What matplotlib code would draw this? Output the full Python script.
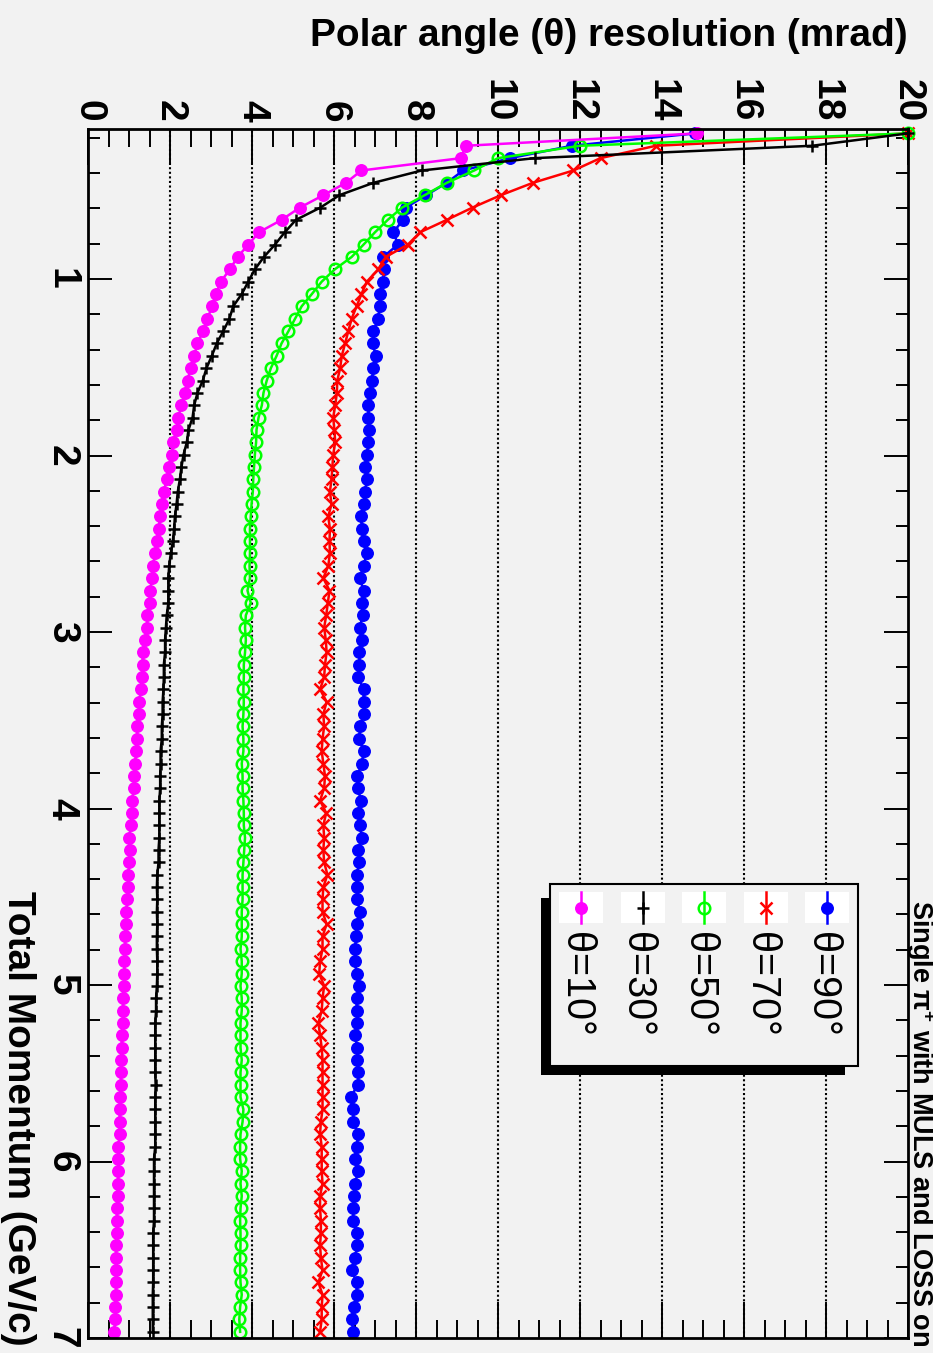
import numpy as np
import matplotlib
matplotlib.use('Agg')
import matplotlib.pyplot as plt
from matplotlib.patches import Rectangle
from matplotlib.lines import Line2D
from matplotlib.ticker import MultipleLocator

# momentum bin centres in GeV/c (bins of 0.07, the first two lie below the axis)
momentum = (np.arange(2, 100) + 0.5) * 0.07

# polar angle resolution in mrad
res_10 = [14.86, 9.21, 9.10, 6.67, 6.29, 5.74, 5.17, 4.72, 4.17, 3.91, 3.65, 3.46, 3.24, 3.12,
          3.03, 2.91, 2.81, 2.67, 2.59, 2.50, 2.43, 2.37, 2.28, 2.20, 2.16, 2.07, 2.04, 1.98, 1.92, 1.85, 1.80, 1.76, 1.72, 1.68, 1.63,
          1.59, 1.57, 1.51, 1.50, 1.45, 1.43, 1.39, 1.33, 1.33, 1.31, 1.29, 1.25, 1.24, 1.20, 1.19, 1.17, 1.15, 1.13, 1.11, 1.08, 1.07,
          1.04, 1.01, 1.02, 1.01, 0.98, 0.98, 0.96, 0.93, 0.93, 0.90, 0.90, 0.89, 0.88, 0.88, 0.85, 0.85, 0.85, 0.82, 0.82, 0.81, 0.80,
          0.80, 0.78, 0.77, 0.77, 0.77, 0.74, 0.74, 0.74, 0.72, 0.72, 0.70, 0.70, 0.70, 0.68, 0.68, 0.68, 0.68, 0.68, 0.66, 0.66, 0.64]
res_30 = [20.0, 17.66, 10.90, 8.14, 6.96, 6.13, 5.67, 5.07, 4.80, 4.56, 4.29, 4.07, 3.91, 3.75,
          3.54, 3.45, 3.30, 3.14, 3.02, 2.89, 2.80, 2.67, 2.59, 2.55, 2.45, 2.41, 2.33, 2.28, 2.24, 2.19, 2.16, 2.12, 2.10, 2.07, 2.02,
          1.98, 1.96, 1.96, 1.96, 1.92, 1.90, 1.88, 1.88, 1.85, 1.85, 1.84, 1.82, 1.82, 1.80, 1.80, 1.77, 1.77, 1.76, 1.76, 1.74, 1.74,
          1.74, 1.74, 1.72, 1.72, 1.69, 1.68, 1.69, 1.68, 1.69, 1.68, 1.68, 1.69, 1.69, 1.68, 1.66, 1.66, 1.64, 1.64, 1.64, 1.64, 1.64,
          1.65, 1.64, 1.64, 1.64, 1.64, 1.64, 1.61, 1.61, 1.61, 1.61, 1.61, 1.61, 1.59, 1.59, 1.59, 1.59, 1.59, 1.58, 1.58, 1.58, 1.58]
res_50 = [20.0, 12.00, 10.00, 9.42, 8.75, 8.21, 7.66, 7.31, 7.00, 6.72, 6.43, 6.02, 5.70, 5.46,
          5.21, 5.05, 4.89, 4.72, 4.60, 4.46, 4.36, 4.28, 4.24, 4.16, 4.11, 4.10, 4.07, 4.05, 4.03, 4.02, 3.99, 3.97, 3.95, 3.95, 3.95,
          3.94, 3.95, 3.89, 3.97, 3.85, 3.83, 3.85, 3.83, 3.80, 3.80, 3.79, 3.80, 3.79, 3.77, 3.79, 3.79, 3.75, 3.77, 3.77, 3.79, 3.80,
          3.80, 3.83, 3.81, 3.79, 3.77, 3.77, 3.77, 3.75, 3.75, 3.75, 3.72, 3.75, 3.75, 3.72, 3.75, 3.75, 3.72, 3.72, 3.72, 3.75, 3.72,
          3.72, 3.72, 3.79, 3.77, 3.72, 3.71, 3.71, 3.75, 3.72, 3.75, 3.72, 3.71, 3.72, 3.72, 3.71, 3.71, 3.72, 3.75, 3.71, 3.69, 3.71]
res_70 = [20.0, 13.85, 12.50, 11.84, 10.85, 10.07, 9.38, 8.75, 8.10, 7.80, 7.26, 7.08, 6.80, 6.67,
          6.55, 6.43, 6.35, 6.27, 6.19, 6.15, 6.08, 6.07, 6.03, 5.98, 6.01, 6.03, 5.98, 5.96, 5.94, 5.90, 5.94, 5.86, 5.90, 5.89, 5.90,
          5.86, 5.74, 5.89, 5.85, 5.81, 5.76, 5.80, 5.82, 5.78, 5.76, 5.66, 5.82, 5.74, 5.76, 5.72, 5.70, 5.74, 5.78, 5.76, 5.66, 5.81,
          5.74, 5.76, 5.74, 5.76, 5.84, 5.74, 5.72, 5.72, 5.82, 5.72, 5.72, 5.66, 5.64, 5.76, 5.72, 5.70, 5.62, 5.66, 5.70, 5.72, 5.72,
          5.72, 5.72, 5.72, 5.68, 5.66, 5.70, 5.70, 5.70, 5.72, 5.66, 5.66, 5.68, 5.68, 5.66, 5.68, 5.72, 5.62, 5.72, 5.70, 5.70, 5.66]
res_90 = [14.80, 11.80, 10.30, 9.15, 8.75, 8.25, 7.75, 7.68, 7.45, 7.56, 7.20, 7.22, 7.20, 7.12,
          7.11, 7.08, 6.96, 6.94, 7.02, 6.96, 6.92, 6.88, 6.84, 6.84, 6.86, 6.84, 6.80, 6.76, 6.80, 6.76, 6.72, 6.66, 6.68, 6.72, 6.80,
          6.72, 6.63, 6.72, 6.68, 6.70, 6.63, 6.68, 6.62, 6.62, 6.59, 6.72, 6.72, 6.73, 6.63, 6.62, 6.72, 6.68, 6.57, 6.59, 6.65, 6.59,
          6.63, 6.68, 6.59, 6.62, 6.55, 6.55, 6.57, 6.63, 6.55, 6.54, 6.51, 6.51, 6.55, 6.62, 6.55, 6.55, 6.57, 6.51, 6.57, 6.57, 6.59,
          6.58, 6.41, 6.46, 6.47, 6.59, 6.55, 6.51, 6.59, 6.51, 6.49, 6.47, 6.46, 6.57, 6.57, 6.51, 6.43, 6.55, 6.55, 6.49, 6.43, 6.47]

labels = ['θ=90°', 'θ=70°', 'θ=50°', 'θ=30°', 'θ=10°']
series = [res_90, res_70, res_50, res_30, res_10]
colors = ['#0000ff', '#ff0000', '#00ff00', '#000000', '#ff00ff']
markers = [dict(marker='o', ms=8.3, mfc='#0000ff', mec='#0000ff'),
           dict(marker='x', ms=8.3, mew=1.8, mec='#ff0000'),
           dict(marker='o', ms=8.3, mew=1.8, mfc='none', mec='#00ff00'),
           dict(marker='+', ms=9, mew=1.8, mec='#000000'),
           dict(marker='o', ms=8.3, mfc='#ff00ff', mec='#ff00ff')]

xticks = list(range(0, 21, 2))
yticks = list(range(1, 8))

BG = '#f2f2f2'
FONT = ['Liberation Sans', 'DejaVu Sans']
plt.rcParams['font.family'] = FONT
plt.rcParams['mathtext.fontset'] = 'dejavusans'

W, H = 933, 1353
fig = plt.figure(figsize=(W / 100, H / 100), dpi=100, facecolor=BG)
ax = fig.add_axes([88 / W, 1 - 1338 / H, 820 / W, 1209 / H], facecolor=BG)

def fx(px):
    return px / W

def fy(py):
    return 1 - py / H

# dotted grid at the major resolution ticks
for v in xticks[1:-1]:
    ax.axvline(v, color='k', lw=1.5, ls=(0, (1, 1.2)), zorder=1)

for res, col, mk in zip(series, colors, markers):
    ax.plot(res, momentum, color=col, lw=1.8, clip_on=False, zorder=3, **mk)

ax.set_xlim(0, 20)
ax.set_ylim(7, 0.15)

ax.set_xticks(xticks)
ax.set_xticklabels([str(v) for v in xticks], rotation=-90, fontsize=28, fontweight='bold')
ax.set_yticks(yticks)
ax.set_yticklabels([str(v) for v in yticks], rotation=-90, va='center', fontsize=28, fontweight='bold')
ax.xaxis.set_minor_locator(MultipleLocator(0.5))
ax.yaxis.set_minor_locator(MultipleLocator(0.2))

ax.tick_params(axis='x', which='major', direction='in', length=26, width=1.4,
               top=True, bottom=True, labeltop=True, labelbottom=False, pad=5)
ax.tick_params(axis='x', which='minor', direction='in', length=13, width=1.4, top=True, bottom=True)
ax.tick_params(axis='y', which='major', direction='in', length=17.5, width=1.4,
               left=True, right=True, pad=6)
ax.tick_params(axis='y', which='minor', direction='in', length=8.5, width=1.4, left=True, right=True)
for s in ax.spines.values():
    s.set_linewidth(2)
    s.set_zorder(4)

# titles (the whole ROOT canvas is turned by 90 degrees)
fig.text(fx(907.6), fy(46), 'Polar angle (θ) resolution (mrad)', ha='right', va='baseline',
         fontsize=28, fontweight='bold')
fig.text(fx(8), fy(1346), 'Total Momentum (GeV/c)', rotation=-90, rotation_mode='anchor',
         ha='right', va='baseline', fontsize=28, fontweight='bold')
fig.text(fx(912), fy(900), r'Single $\mathregular{\pi^{+}}$ with MULS and LOSS on', rotation=-90,
         rotation_mode='anchor', ha='left', va='baseline', fontsize=19.5, fontweight='bold')

# legend with shadow, drawn by hand because the entries are turned too
fig.add_artist(Rectangle((fx(541), fy(1075)), (845 - 541) / W, (1075 - 898) / H,
                         transform=fig.transFigure, fc='k', ec='none', zorder=5))
fig.add_artist(Rectangle((fx(550), fy(1066)), (858 - 550) / W, (1066 - 884) / H,
                         transform=fig.transFigure, fc=BG, ec='k', lw=1.5, zorder=6))
centres = [827, 765.5, 704, 642.5, 581]
for cx, lab, col, mk in zip(centres, labels, colors, markers):
    fig.add_artist(Rectangle((fx(cx - 22), fy(923)), 44 / W, 31 / H,
                             transform=fig.transFigure, fc='white', ec='none', zorder=7))
    fig.add_artist(Line2D([fx(cx), fx(cx)], [fy(892), fy(923)], transform=fig.transFigure,
                          color=col, lw=1.8, zorder=8))
    fig.add_artist(Line2D([fx(cx)], [fy(907.5)], transform=fig.transFigure, ls='none',
                          zorder=9, **mk))
    fig.text(fx(cx - 16), fy(931.7), lab, rotation=-90, rotation_mode='anchor',
             ha='left', va='baseline', fontsize=28.5, zorder=9)

fig.savefig('out.png', dpi=100, facecolor=BG)
